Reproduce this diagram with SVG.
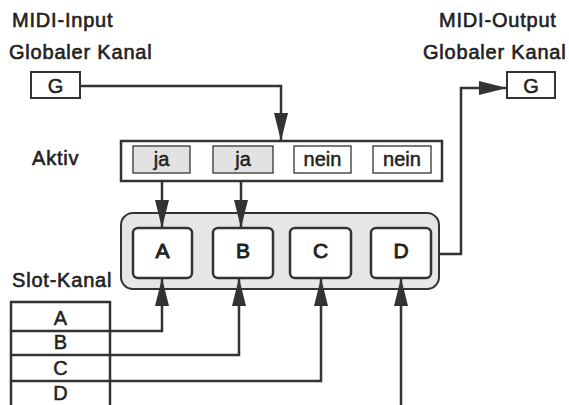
<svg xmlns="http://www.w3.org/2000/svg" width="569" height="405" viewBox="0 0 569 405">
<style>
text{font-family:"Liberation Sans",Arial,sans-serif;fill:#222;stroke:#222;stroke-linejoin:round}
.t{font-size:20px;stroke-width:0.6;letter-spacing:0.8px}
.tc{font-size:20px;stroke-width:0.5;text-anchor:middle}
.tb{font-size:21px;stroke-width:0.9;text-anchor:middle}
.box{fill:#fff;stroke:#333;stroke-width:2}
.ja{fill:#e2e2e4;stroke:#333;stroke-width:1.3}
.nein{fill:#fff;stroke:#333;stroke-width:1.3}
.slot{fill:#fff;stroke:#333;stroke-width:2.5}
.ln{fill:none;stroke:#333;stroke-width:2.5}
.arr{fill:none;stroke:#333;stroke-width:2.5;marker-end:url(#ah)}
</style>
<defs>
<marker id="ah" markerUnits="userSpaceOnUse" markerWidth="28" markerHeight="14" refX="28" refY="7" orient="auto" viewBox="0 0 28 14">
<path d="M0,0 L28,7 L0,14 z" fill="#333"/>
</marker>
</defs>
<g id="labels">
<text class="t" x="12" y="27">MIDI-Input</text>
<text class="t" x="9" y="59">Globaler Kanal</text>
<text class="t" x="439" y="27">MIDI-Output</text>
<text class="t" x="423" y="59">Globaler Kanal</text>
<text class="t" x="32" y="165">Aktiv</text>
<text class="t" x="12" y="287">Slot-Kanal</text>
</g>
<g id="g-in">
<rect class="box" x="31" y="72" width="49" height="26"/>
<text class="tc" x="55.5" y="93">G</text>
</g>
<g id="g-out">
<rect class="box" x="507" y="72" width="48" height="26"/>
<text class="tc" x="531" y="93">G</text>
</g>
<g id="aktiv">
<rect x="121" y="141" width="321" height="40" fill="#fff" stroke="#333" stroke-width="2.5"/>
<rect class="ja" x="133" y="146" width="57" height="27"/>
<text class="tc" x="161.5" y="166">ja</text>
<rect class="ja" x="213" y="146" width="60" height="27"/>
<text class="tc" x="243" y="166">ja</text>
<rect class="nein" x="294" y="146" width="57" height="27"/>
<text class="tc" x="322.5" y="166">nein</text>
<rect class="nein" x="373" y="146" width="58" height="27"/>
<text class="tc" x="402" y="166">nein</text>
</g>
<g id="slots">
<rect x="121" y="213" width="318" height="76" rx="12" fill="#e6e6e8" stroke="#333" stroke-width="2"/>
<g id="slot-a"><rect class="slot" x="133" y="228" width="59" height="50" rx="5"/><text class="tb" x="162.5" y="258">A</text></g>
<g id="slot-b"><rect class="slot" x="213" y="228" width="60" height="50" rx="5"/><text class="tb" x="243" y="258">B</text></g>
<g id="slot-c"><rect class="slot" x="290" y="228" width="61" height="50" rx="5"/><text class="tb" x="320.5" y="258">C</text></g>
<g id="slot-d"><rect class="slot" x="371" y="228" width="60" height="50" rx="5"/><text class="tb" x="401" y="258">D</text></g>
</g>
<g id="slot-kanal">
<path class="ln" d="M11,405 V302 H110 V405 M11,331 H110 M11,355 H110 M11,381 H110" stroke-width="2"/>
<text class="tc" x="60.5" y="325">A</text>
<text class="tc" x="60.5" y="349">B</text>
<text class="tc" x="60.5" y="375">C</text>
<text class="tc" x="60.5" y="400">D</text>
</g>
<g id="connectors">
<path class="arr" d="M80,86 H281 V141"/>
<path class="arr" d="M162,181 V228"/>
<path class="arr" d="M241,181 V228"/>
<path class="arr" d="M439,254 H461 V88 H507"/>
<path class="arr" d="M110,331 H162 V278"/>
<path class="arr" d="M110,355 H239 V278"/>
<path class="arr" d="M110,381 H321 V278"/>
<path class="arr" d="M401,405 V278"/>
</g>
</svg>
